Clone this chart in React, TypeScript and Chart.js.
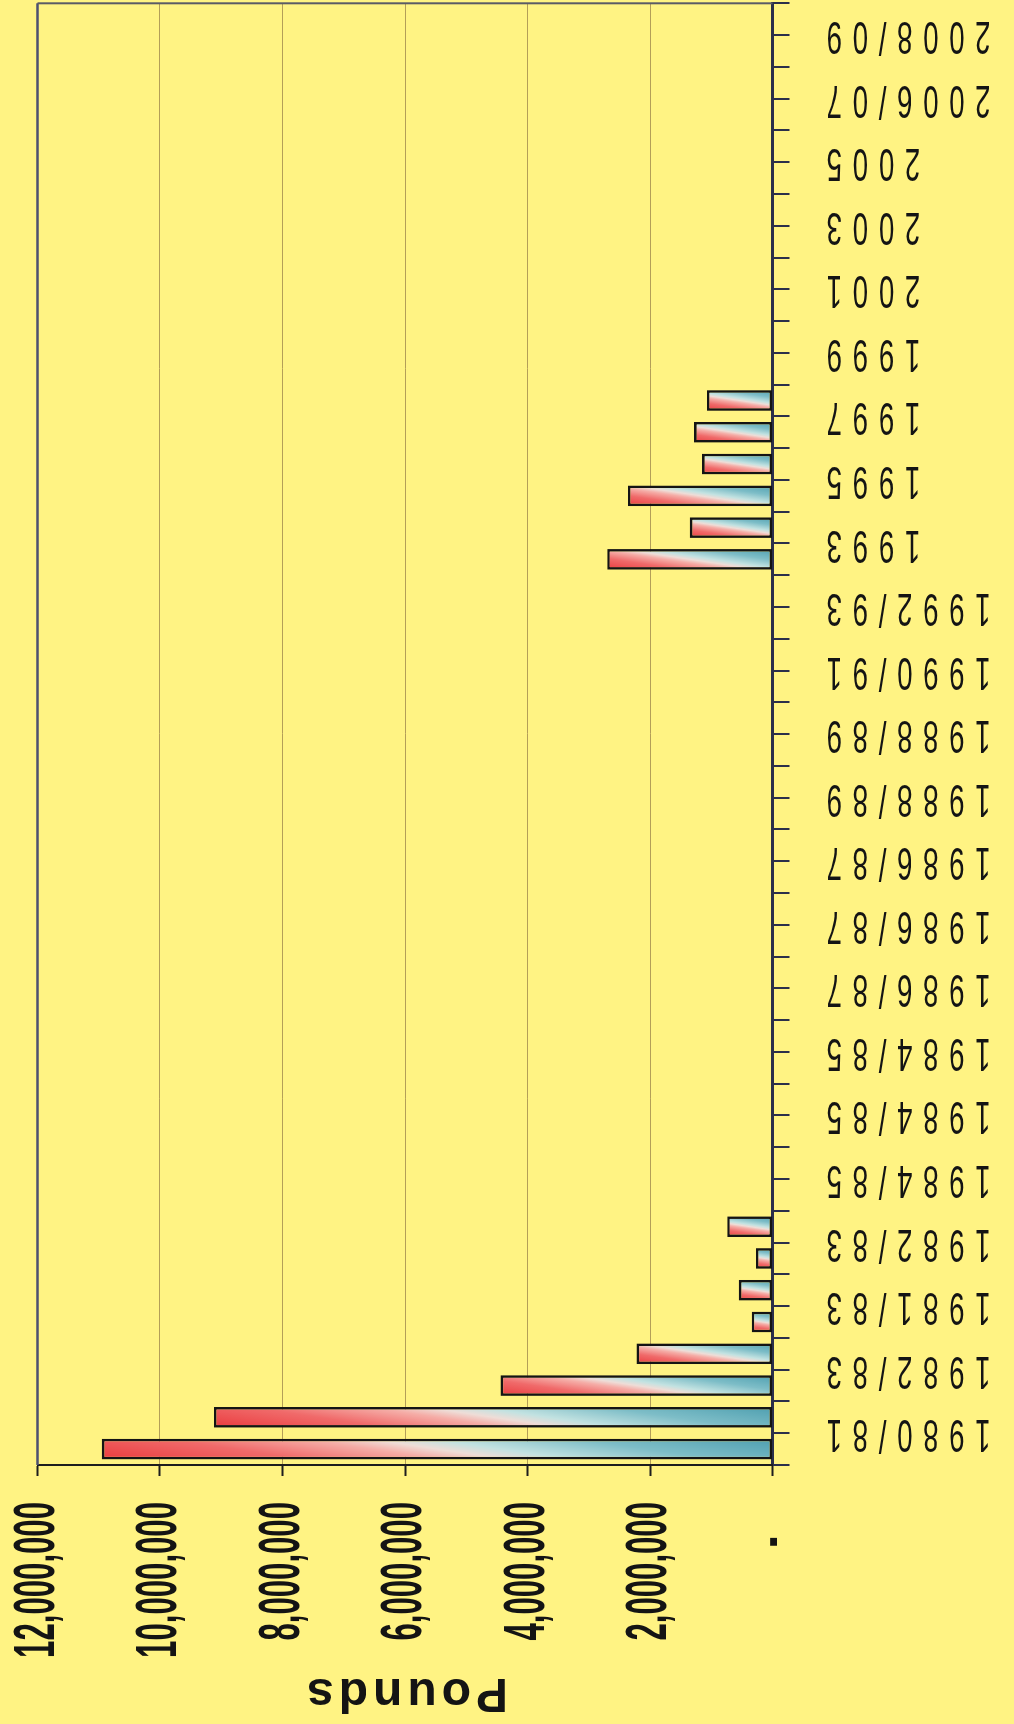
import React, { useEffect, useRef } from 'react';
import { Chart, registerables } from 'chart.js';

Chart.register(...registerables);

// Period labels; each label covers two consecutive bars
const periodLabels = [
  '1980/81', '1982/83', '1981/83', '1982/83', '1984/85', '1984/85', '1984/85',
  '1986/87', '1986/87', '1986/87', '1988/89', '1988/89', '1990/91', '1992/93',
  '1993', '1995', '1997', '1999', '2001', '2003', '2005', '2006/07', '2008/09',
];

// Pounds for the first and the second bar of each period (null = no bar)
const firstBar: (number | null)[] = [
  10950000, 4440000, 340000, 270000, null, null, null, null, null, null, null, null,
  null, null, 2700000, 2360000, 1280000, null, null, null, null, null, null,
];
const secondBar: (number | null)[] = [
  9120000, 2220000, 550000, 740000, null, null, null, null, null, null, null, null,
  null, null, 1350000, 1150000, 1070000, null, null, null, null, null, null,
];

// Value axis ticks (pounds)
const poundTicks = [0, 2000000, 4000000, 6000000, 8000000, 10000000, 12000000];

const PAGE_BG = '#FFF383';
const INK = '#141414';
const FONT = "'Liberation Sans', Arial, Helvetica, sans-serif";
const BAR_FRACTION = 0.65;
// Tilt of the colour bands inside each bar
const FILL_ANGLE = (8.5 * Math.PI) / 180;

const slotLabels = periodLabels.flatMap((l) => [l, '']);
const slotValues = firstBar.flatMap((v, i) => [v, secondBar[i]]);

const formatPounds = (v: number) =>
  v === 0 ? '-    ' : String(Math.round(v)).replace(/\B(?=(\d{3})+(?!\d))/g, ',');

// Red-to-teal fill running from the bar's tip to its base, slightly tilted
function barFill(c: any) {
  const chart = c.chart;
  const v = c.raw;
  if (!chart.chartArea || v == null) return '#EA3B3E';
  const xs = chart.scales.x;
  const ys = chart.scales.y;
  const cx = xs.getPixelForValue(c.dataIndex);
  const slot = Math.abs(xs.getPixelForValue(1) - xs.getPixelForValue(0));
  const w = slot * BAR_FRACTION;
  const top = ys.getPixelForValue(v);
  const base = ys.getPixelForValue(0);
  const h = Math.max(base - top, 1);
  const nx = Math.cos(FILL_ANGLE);
  const ny = Math.sin(FILL_ANGLE);
  const d = (w * nx + h * ny) / 2;
  const my = (top + base) / 2;
  const g = chart.ctx.createLinearGradient(cx - d * nx, my - d * ny, cx + d * nx, my + d * ny);
  g.addColorStop(0, '#EA3B3E');
  g.addColorStop(0.25, '#F06A6A');
  g.addColorStop(0.42, '#F5ADA7');
  g.addColorStop(0.5, '#EEDDD7');
  g.addColorStop(0.58, '#C2E2E1');
  g.addColorStop(0.76, '#7DBDC7');
  g.addColorStop(1, '#4E9FB0');
  return g;
}

// Tick labels drawn condensed along the text direction, with optional letter spacing
function condensedLabels(scale: any, squeeze: number, spacing: number) {
  const ctx: CanvasRenderingContext2D = scale.ctx;
  const items = scale.getLabelItems(scale.chart.chartArea);
  for (const it of items) {
    const label = it.label;
    if (label === '' || label == null) continue;
    const o = it.options;
    ctx.save();
    ctx.translate(o.translation[0], o.translation[1]);
    ctx.rotate(o.rotation);
    ctx.scale(squeeze, 1);
    ctx.font = it.font.string;
    ctx.fillStyle = o.color;
    ctx.textAlign = o.textAlign;
    ctx.textBaseline = o.textBaseline;
    (ctx as any).letterSpacing = spacing + 'px';
    ctx.fillText(String(label), 0, it.textOffset);
    ctx.restore();
  }
}

const labelStyler = {
  id: 'labelStyler',
  afterLayout(chart: any) {
    const x = chart.scales.x;
    const y = chart.scales.y;
    if (x && !x.__styled) {
      x.__styled = true;
      x.drawLabels = function () {
        condensedLabels(this, 0.59, 18);
      };
    }
    if (y && !y.__styled) {
      y.__styled = true;
      y.drawLabels = function () {
        condensedLabels(this, 0.537, 0);
      };
      const baseTitle = y.drawTitle;
      y.drawTitle = function () {
        this.ctx.save();
        this.ctx.letterSpacing = '5px';
        baseTitle.call(this);
        this.ctx.restore();
      };
    }
  },
};

const pageFill = {
  id: 'pageFill',
  beforeDraw(chart: any) {
    const { ctx, width, height } = chart;
    ctx.save();
    ctx.fillStyle = PAGE_BG;
    ctx.fillRect(0, 0, width, height);
    ctx.restore();
  },
};

const plotFrame = {
  id: 'plotFrame',
  beforeDatasetsDraw(chart: any) {
    const { ctx, chartArea: a } = chart;
    ctx.save();
    ctx.lineWidth = 2.5;
    ctx.strokeStyle = '#4D5070';
    ctx.beginPath();
    ctx.moveTo(a.left, a.top);
    ctx.lineTo(a.right, a.top);
    ctx.stroke();
    ctx.lineWidth = 2;
    ctx.strokeStyle = '#5A5A66';
    ctx.beginPath();
    ctx.moveTo(a.right, a.top);
    ctx.lineTo(a.right, a.bottom);
    ctx.stroke();
    ctx.restore();
  },
};

export default function App() {
  const canvasRef = useRef<HTMLCanvasElement | null>(null);

  useEffect(() => {
    const canvas = canvasRef.current;
    if (!canvas) return;
    const chart = new Chart(canvas, {
      type: 'bar',
      data: {
        labels: slotLabels,
        datasets: [
          {
            label: 'Pounds',
            data: slotValues as any,
            backgroundColor: barFill as any,
            borderColor: INK,
            borderWidth: 2.6,
            borderSkipped: false,
            barPercentage: BAR_FRACTION,
            categoryPercentage: 1,
          },
        ],
      },
      options: {
        responsive: false,
        animation: false,
        devicePixelRatio: 1,
        layout: { padding: { top: 37.5, right: 3.3, bottom: 0, left: 0 } },
        plugins: {
          legend: { display: false },
          tooltip: { enabled: false },
          title: { display: false },
        },
        scales: {
          x: {
            type: 'category',
            position: 'bottom',
            offset: true,
            grid: {
              offset: true,
              drawOnChartArea: false,
              drawTicks: true,
              tickLength: 17,
              tickWidth: 2,
              tickColor: '#2B2F4A',
              lineWidth: 2,
              color: '#2B2F4A',
            },
            border: { display: true, color: '#2B2F4A', width: 3 },
            ticks: {
              autoSkip: false,
              minRotation: 90,
              maxRotation: 90,
              padding: 26.5,
              labelOffset: 15.9,
              color: INK,
              font: { family: FONT, size: 47, weight: 'normal' },
              callback: (_v: any, i: number) => (i % 2 === 0 ? slotLabels[i] : ''),
            },
            afterFit: (s: any) => {
              s.height = 241.5;
              s.paddingLeft = 0;
              s.paddingRight = 0;
            },
          },
          y: {
            type: 'linear',
            position: 'left',
            min: 0,
            max: 12000000,
            afterBuildTicks: (s: any) => {
              s.ticks = poundTicks.map((value) => ({ value }));
            },
            grid: {
              color: '#B39E58',
              lineWidth: 1,
              drawTicks: true,
              tickLength: 11,
              tickWidth: 2,
              tickColor: '#1D1D1D',
            },
            border: { display: true, color: '#1D1D1D', width: 2 },
            ticks: {
              padding: 26,
              color: INK,
              font: { family: FONT, size: 58, weight: 'bold' },
              callback: (v: any) => formatPounds(Number(v)),
            },
            title: {
              display: true,
              text: 'Pounds',
              color: INK,
              font: { family: FONT, size: 48, weight: 'bold' },
              padding: { top: 3, bottom: 0 },
            },
            afterFit: (s: any) => {
              s.width = 259;
              s.paddingTop = 0;
              s.paddingBottom = 0;
            },
          },
        },
      },
      plugins: [pageFill, plotFrame, labelStyler],
    });
    chart.draw();
    return () => chart.destroy();
  }, []);

  return (
    <div
      style={{
        position: 'absolute',
        left: 0,
        top: 0,
        width: 1014,
        height: 1724,
        overflow: 'hidden',
        background: PAGE_BG,
      }}
    >
      <canvas
        ref={canvasRef}
        width={1724}
        height={1014}
        style={{
          position: 'absolute',
          left: 0,
          top: 0,
          width: 1724,
          height: 1014,
          transformOrigin: '0 0',
          transform: 'translateY(1724px) rotate(-90deg)',
        }}
      />
    </div>
  );
}
